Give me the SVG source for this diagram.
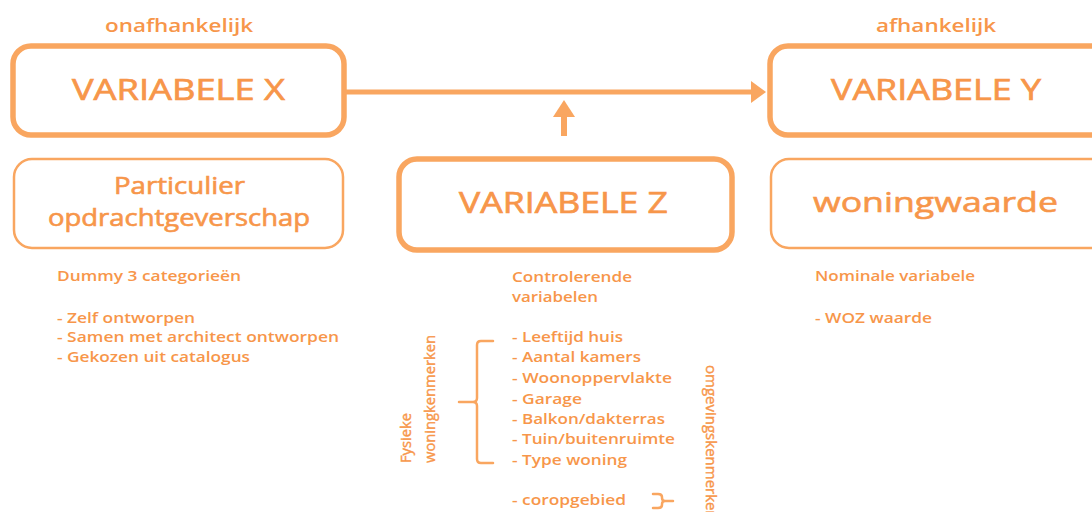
<svg xmlns="http://www.w3.org/2000/svg" width="1092" height="512" viewBox="0 0 1092 512">
<style>
text{font-family:"Open Sans","Liberation Sans",sans-serif;fill:#F7964A;font-weight:600}
.big{font-size:30px;font-weight:400;stroke:#F7964A;stroke-width:0.7}
.mid{font-size:23px;font-weight:400;stroke:#F7964A;stroke-width:0.6}
.lab{font-size:18px}
.sm{font-size:15px}
.rot{font-weight:400;stroke:#F7964A;stroke-width:0.4}
.thick{fill:#fff;stroke:#F9A660;stroke-width:5.5}
.thin{fill:#fff;stroke:#F9A660;stroke-width:2.5}
.line{fill:none;stroke:#F9A660;stroke-width:5}
.br{fill:none;stroke:#F9A660;stroke-width:2.5;stroke-linecap:round}
</style>
<text class="lab" x="105" y="32" textLength="148" lengthAdjust="spacingAndGlyphs">onafhankelijk</text>
<text class="lab" x="876" y="32" textLength="120" lengthAdjust="spacingAndGlyphs">afhankelijk</text>
<g id="connectors">
<line class="line" x1="346" y1="92" x2="754" y2="92"/>
<path d="M751,81 L766,92 L751,103 z" fill="#F9A660"/>
<line x1="564" y1="136" x2="564" y2="116" stroke="#F9A660" stroke-width="6"/>
<path d="M553,117 L564,100 L575,117 z" fill="#F9A660"/>
</g>
<g id="varX">
<rect class="thick" x="13" y="46" width="331" height="89" rx="18"/>
<text class="big" x="72" y="100" textLength="213" lengthAdjust="spacingAndGlyphs">VARIABELE X</text>
</g>
<g id="varY">
<rect class="thick" x="770" y="46" width="340" height="89" rx="18"/>
<text class="big" x="831" y="100" textLength="210" lengthAdjust="spacingAndGlyphs">VARIABELE Y</text>
</g>
<g id="varZ">
<rect class="thick" x="399" y="159" width="333" height="91" rx="18"/>
<text class="big" x="459" y="213" textLength="209" lengthAdjust="spacingAndGlyphs">VARIABELE Z</text>
</g>
<g id="particulier">
<rect class="thin" x="14" y="159" width="329" height="89" rx="18"/>
<text class="mid" x="114" y="194" textLength="131" lengthAdjust="spacingAndGlyphs">Particulier</text>
<text class="mid" x="48" y="226" textLength="262" lengthAdjust="spacingAndGlyphs">opdrachtgeverschap</text>
</g>
<g id="woningwaarde">
<rect class="thin" x="771" y="159" width="340" height="89" rx="18"/>
<text class="mid" x="813" y="212" style="font-size:28px" textLength="245" lengthAdjust="spacingAndGlyphs">woningwaarde</text>
</g>
<g id="textX">
<text class="sm" x="57" y="281" textLength="184" lengthAdjust="spacingAndGlyphs">Dummy 3 categorieën</text>
<text class="sm" x="57" y="323" textLength="138" lengthAdjust="spacingAndGlyphs">- Zelf ontworpen</text>
<text class="sm" x="57" y="342" textLength="282" lengthAdjust="spacingAndGlyphs">- Samen met architect ontworpen</text>
<text class="sm" x="57" y="362" textLength="193" lengthAdjust="spacingAndGlyphs">- Gekozen uit catalogus</text>
</g>
<g id="textY">
<text class="sm" x="815" y="281" textLength="160" lengthAdjust="spacingAndGlyphs">Nominale variabele</text>
<text class="sm" x="815" y="323" textLength="117" lengthAdjust="spacingAndGlyphs">- WOZ waarde</text>
</g>
<g id="textZ">
<text class="sm" x="512" y="282" textLength="120" lengthAdjust="spacingAndGlyphs">Controlerende</text>
<text class="sm" x="512" y="302" textLength="86" lengthAdjust="spacingAndGlyphs">variabelen</text>
<text class="sm" x="512" y="342" textLength="111" lengthAdjust="spacingAndGlyphs">- Leeftijd huis</text>
<text class="sm" x="512" y="362" textLength="129" lengthAdjust="spacingAndGlyphs">- Aantal kamers</text>
<text class="sm" x="512" y="383" textLength="160" lengthAdjust="spacingAndGlyphs">- Woonoppervlakte</text>
<text class="sm" x="512" y="404" textLength="70" lengthAdjust="spacingAndGlyphs">- Garage</text>
<text class="sm" x="512" y="424" textLength="153" lengthAdjust="spacingAndGlyphs">- Balkon/dakterras</text>
<text class="sm" x="512" y="444" textLength="163" lengthAdjust="spacingAndGlyphs">- Tuin/buitenruimte</text>
<text class="sm" x="512" y="465" textLength="115" lengthAdjust="spacingAndGlyphs">- Type woning</text>
<text class="sm" x="512" y="505" textLength="114" lengthAdjust="spacingAndGlyphs">- coropgebied</text>
<path class="br" d="M493,341 L481,341 Q477,341 477,345 L477,398 Q477,402 473,402 L459,402 M473,402 Q477,402 477,406 L477,459 Q477,463 481,463 L493,463"/>
<path class="br" d="M653,494 L658,494 Q662,494 662,497 L662,498 Q662,501 665,501 L673,501 M665,501 Q662,501 662,504 L662,505 Q662,508 658,508 L653,508"/>
<text class="sm rot" transform="translate(411,463) rotate(-90)" textLength="50" lengthAdjust="spacingAndGlyphs">Fysieke</text>
<text class="sm rot" transform="translate(435,463) rotate(-90)" textLength="128" lengthAdjust="spacingAndGlyphs">woningkenmerken</text>
<text class="sm rot" transform="translate(706,365) rotate(90)">omgevingskenmerken</text>
</g>
</svg>
